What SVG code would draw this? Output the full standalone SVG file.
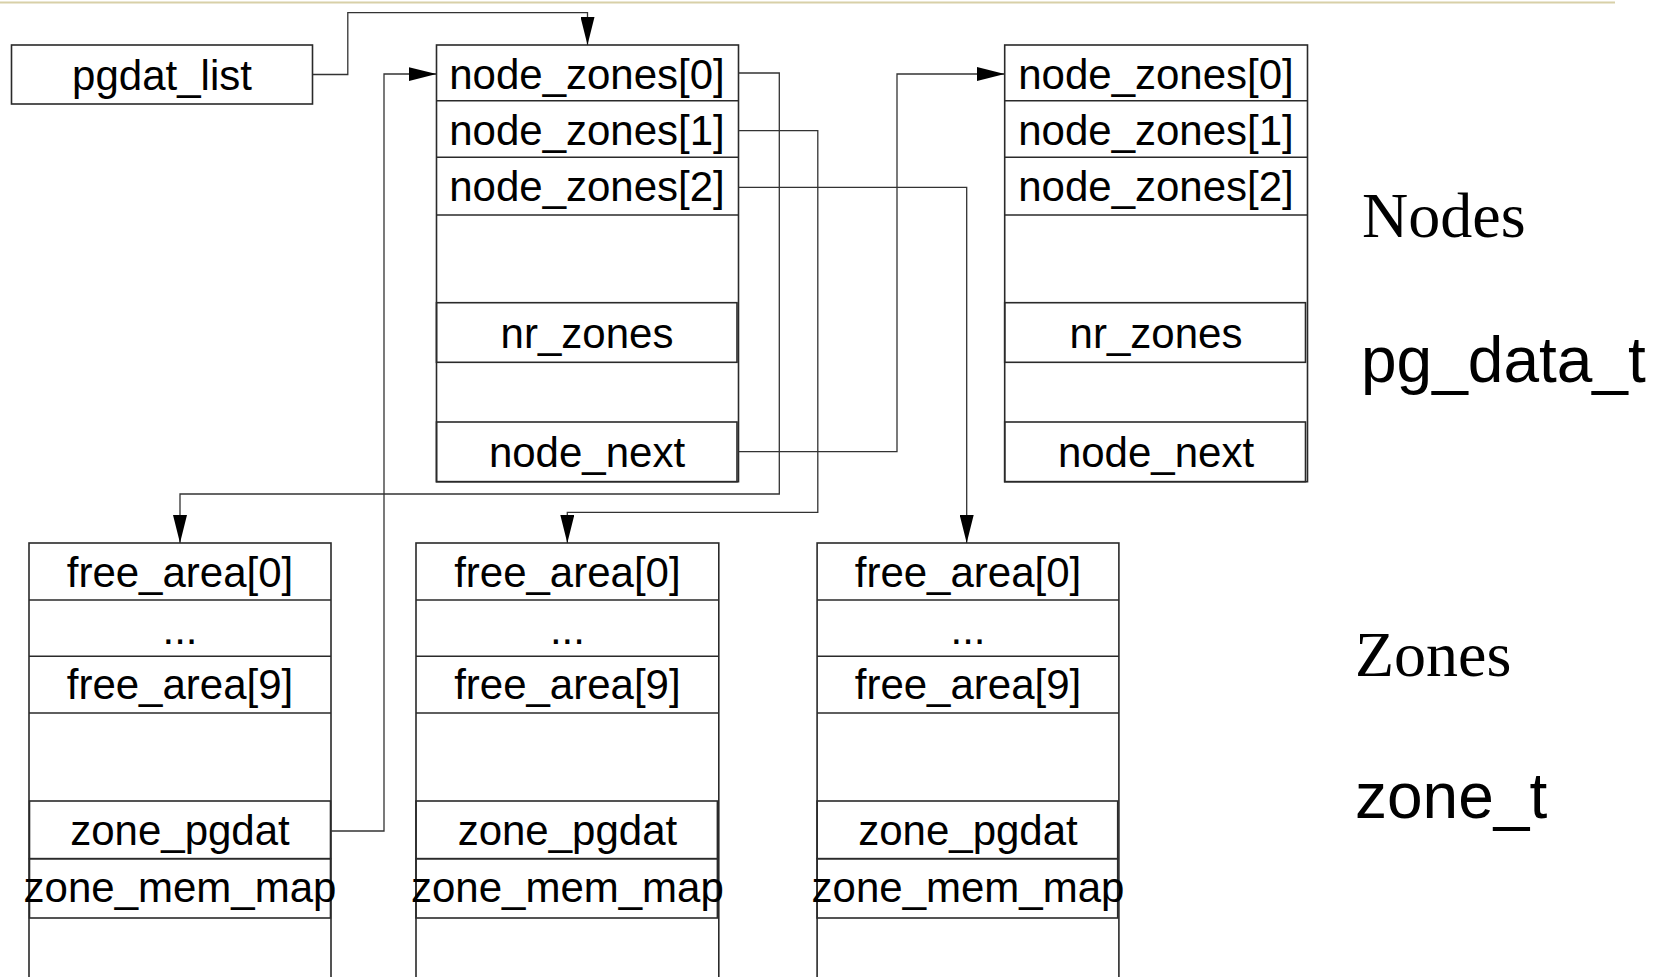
<svg xmlns="http://www.w3.org/2000/svg" width="1656" height="977" viewBox="0 0 1656 977">
  <style>
    .box { fill: #ffffff; stroke: #2a2a2a; stroke-width: 1.6; }
    .row { fill: none; stroke: #2a2a2a; stroke-width: 1.6; }
    .lbl { font-family: "Liberation Sans", Arial, sans-serif; font-size: 42px; fill: #000; text-anchor: middle; }
    .big { font-family: "Liberation Sans", Arial, sans-serif; font-size: 64px; fill: #000; }
    .serif { font-family: "Liberation Serif", "Times New Roman", serif; font-size: 64px; fill: #000; }
    .wire { fill: none; stroke: #333; stroke-width: 1.3; }
  </style>
  <defs>
    <marker id="arrow" markerUnits="userSpaceOnUse" viewBox="0 0 28 14" refX="28" refY="7" markerWidth="28" markerHeight="14" orient="auto">
      <path d="M0 0 L28 7 L0 14 Z" fill="#000"/>
    </marker>
  </defs>
  <rect width="1656" height="977" fill="#ffffff"/>

  <!-- header rule -->
  <line x1="0" y1="2.5" x2="1615" y2="2.5" stroke="#d8d0a8" stroke-width="2"/>

  <!-- list head -->
  <g id="pgdat_list">
    <rect class="box" x="11.5" y="45" width="301" height="59"/>
    <text class="lbl" x="162" y="90">pgdat_list</text>
  </g>

  <!-- first pg_data_t node -->
  <g id="node0">
    <rect class="box" x="436.5" y="45" width="302" height="436.7"/>
    <line class="row" x1="436.5" y1="100.7" x2="738.5" y2="100.7"/>
    <line class="row" x1="436.5" y1="157.3" x2="738.5" y2="157.3"/>
    <line class="row" x1="436.5" y1="215" x2="738.5" y2="215"/>
    <rect class="row" x="436.5" y="302.7" width="300.5" height="59.6"/>
    <rect class="row" x="436.5" y="422" width="300.5" height="59.7"/>
    <text class="lbl" x="587" y="88.5">node_zones[0]</text>
    <text class="lbl" x="587" y="144.5">node_zones[1]</text>
    <text class="lbl" x="587" y="201">node_zones[2]</text>
    <text class="lbl" x="587" y="348">nr_zones</text>
    <text class="lbl" x="587" y="467">node_next</text>
  </g>

  <!-- second pg_data_t node -->
  <g id="node1">
    <rect class="box" x="1004.7" y="45" width="302.8" height="436.7"/>
    <line class="row" x1="1004.7" y1="100.7" x2="1307.5" y2="100.7"/>
    <line class="row" x1="1004.7" y1="157.3" x2="1307.5" y2="157.3"/>
    <line class="row" x1="1004.7" y1="215" x2="1307.5" y2="215"/>
    <rect class="row" x="1004.7" y="302.7" width="300.8" height="59.6"/>
    <rect class="row" x="1004.7" y="422" width="300.8" height="59.7"/>
    <text class="lbl" x="1156" y="88.5">node_zones[0]</text>
    <text class="lbl" x="1156" y="144.5">node_zones[1]</text>
    <text class="lbl" x="1156" y="201">node_zones[2]</text>
    <text class="lbl" x="1156" y="348">nr_zones</text>
    <text class="lbl" x="1156" y="467">node_next</text>
  </g>

  <!-- zone_t structures -->
  <g id="zone0">
    <rect class="box" x="29" y="543" width="302" height="460"/>
    <line class="row" x1="29" y1="600" x2="331" y2="600"/>
    <line class="row" x1="29" y1="656.3" x2="331" y2="656.3"/>
    <line class="row" x1="29" y1="713" x2="331" y2="713"/>
    <rect class="row" x="29.5" y="801" width="301" height="57.7"/>
    <rect class="row" x="29.5" y="858.7" width="301" height="59.3"/>
    <text class="lbl" x="180" y="586.7">free_area[0]</text>
    <text class="lbl" x="180" y="644">...</text>
    <text class="lbl" x="180" y="699.3">free_area[9]</text>
    <text class="lbl" x="180" y="845">zone_pgdat</text>
    <text class="lbl" x="180" y="901.7">zone_mem_map</text>
  </g>

  <g id="zone1">
    <rect class="box" x="416" y="543" width="302.8" height="460"/>
    <line class="row" x1="416" y1="600" x2="718.8" y2="600"/>
    <line class="row" x1="416" y1="656.3" x2="718.8" y2="656.3"/>
    <line class="row" x1="416" y1="713" x2="718.8" y2="713"/>
    <rect class="row" x="416" y="801" width="301.4" height="57.7"/>
    <rect class="row" x="416" y="858.7" width="301.4" height="59.3"/>
    <text class="lbl" x="567.4" y="586.7">free_area[0]</text>
    <text class="lbl" x="567.4" y="644">...</text>
    <text class="lbl" x="567.4" y="699.3">free_area[9]</text>
    <text class="lbl" x="567.4" y="845">zone_pgdat</text>
    <text class="lbl" x="567.4" y="901.7">zone_mem_map</text>
  </g>

  <g id="zone2">
    <rect class="box" x="817.1" y="543" width="301.8" height="460"/>
    <line class="row" x1="817.1" y1="600" x2="1118.9" y2="600"/>
    <line class="row" x1="817.1" y1="656.3" x2="1118.9" y2="656.3"/>
    <line class="row" x1="817.1" y1="713" x2="1118.9" y2="713"/>
    <rect class="row" x="817.1" y="801" width="300.6" height="57.7"/>
    <rect class="row" x="817.1" y="858.7" width="300.6" height="59.3"/>
    <text class="lbl" x="968" y="586.7">free_area[0]</text>
    <text class="lbl" x="968" y="644">...</text>
    <text class="lbl" x="968" y="699.3">free_area[9]</text>
    <text class="lbl" x="968" y="845">zone_pgdat</text>
    <text class="lbl" x="968" y="901.7">zone_mem_map</text>
  </g>

  <!-- side captions -->
  <g id="captions">
    <text class="serif" x="1362" y="237">Nodes</text>
    <text class="big" x="1361" y="382">pg_data_t</text>
    <text class="serif" x="1355" y="676">Zones</text>
    <text class="big" x="1355" y="818">zone_t</text>
  </g>

  <!-- pointers -->
  <g id="connectors">
    <path class="wire" d="M312.7 74.5 H347.8 V12.7 H587.5 V45" marker-end="url(#arrow)"/>
    <path class="wire" d="M331 831 H384 V74 H436.5" marker-end="url(#arrow)"/>
    <path class="wire" d="M738.5 73 H779.3 V494 H180 V543" marker-end="url(#arrow)"/>
    <path class="wire" d="M738.5 130.7 H817.8 V512.3 H567.3 V543" marker-end="url(#arrow)"/>
    <path class="wire" d="M738.5 187.3 H966.7 V543" marker-end="url(#arrow)"/>
    <path class="wire" d="M738.5 451.7 H897 V74 H1004.7" marker-end="url(#arrow)"/>
  </g>
</svg>
